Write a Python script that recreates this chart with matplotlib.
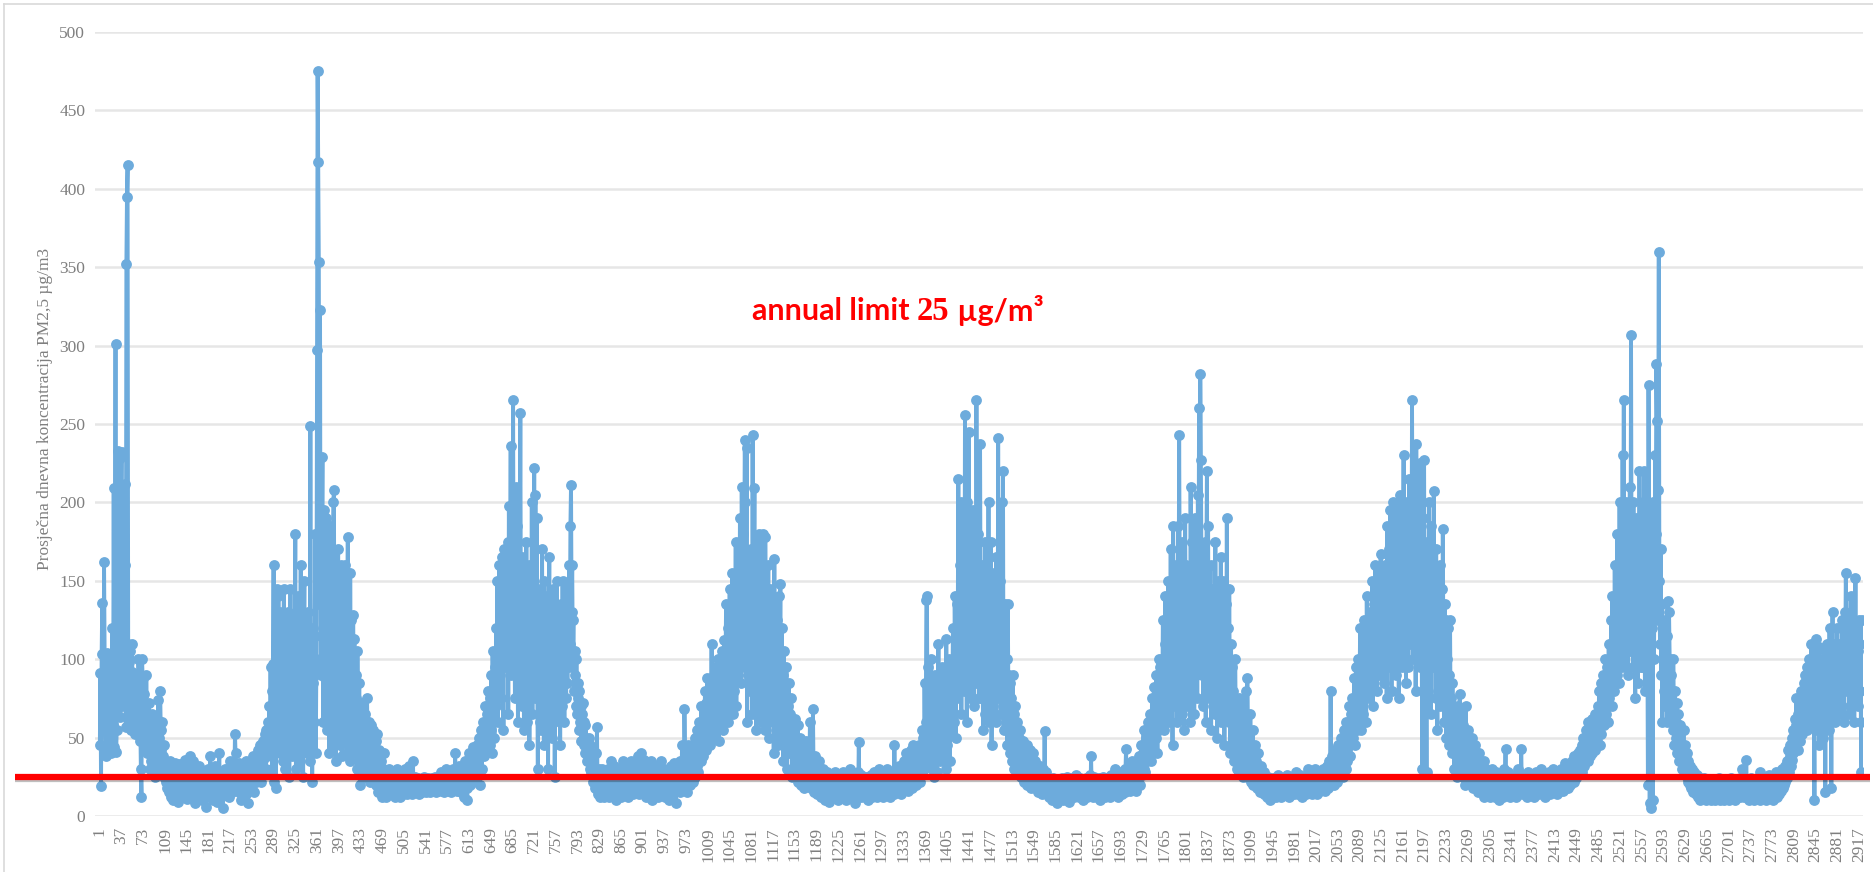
import numpy as np
import matplotlib
matplotlib.use("Agg")
import matplotlib.pyplot as plt
import matplotlib.patheffects as pe
from matplotlib.lines import Line2D

# daily PM2.5 means, one list per year (10 days per row)
year1 = [
    45, 91, 19, 103, 136, 88, 55, 162, 98, 41,
    38, 95, 104, 62, 44, 85, 100, 48, 40, 72,
    96, 120, 58, 209, 44, 118, 301, 41, 55, 210,
    233, 96, 150, 228, 63, 180, 232, 70, 205, 125,
    88, 160, 212, 57, 352, 395, 415, 110, 62, 98,
    105, 75, 55, 110, 92, 68, 54, 88, 60, 52,
    90, 58, 72, 55, 100, 84, 48, 62, 30, 12,
    100, 88, 62, 45, 78, 70, 50, 90, 58, 40,
    55, 72, 48, 30, 52, 35, 65, 45, 28, 40,
    58, 32, 25, 45, 62, 38, 30, 74, 50, 35,
    80, 55, 42, 60, 28, 38, 45, 25, 35, 30,
    22, 28, 18, 32, 25, 15, 20, 35, 12, 24,
    30, 18, 10, 22, 34, 26, 15, 20, 28, 9,
    17, 25, 33, 20, 12, 28, 22, 18, 30, 24,
    14, 36, 26, 20, 11, 16, 30, 22, 15, 38,
    25, 18, 12, 28, 35, 20, 14, 24, 8, 22,
    30, 16, 26, 19, 12, 32, 22, 27, 15, 20,
    10, 24, 18, 28, 14, 22, 6, 19, 25, 16,
    30, 12, 20, 38, 24, 15, 28, 10, 22, 18,
    25, 32, 14, 20, 27, 9, 18, 24, 40, 16,
    22, 12, 28, 18, 5, 20, 26, 14, 30, 22,
    16, 24, 19, 30, 12, 25, 35, 20, 28, 15,
    22, 32, 18, 26, 52, 40, 24, 30, 20, 28,
    15, 34, 22, 28, 10, 25, 30, 18, 24, 32,
    20, 28, 35, 14, 26, 8, 22, 32, 18, 28,
    25, 34, 30, 20, 38, 26, 15, 32, 28, 22,
    35, 30, 42, 24, 28, 45, 32, 22, 38, 30,
    48, 36, 28, 52, 42, 30, 55, 38, 45, 60,
    40, 70, 52, 95, 45, 80, 30, 97, 160, 22,
    90, 55, 18, 145, 120, 60, 140, 85, 40, 130,
    70, 110, 125, 35, 95, 145, 60, 30, 120, 80,
    100, 45, 130, 110, 25, 90, 145, 60, 38, 115,
    75, 125, 40, 100, 180, 30, 85, 70, 140, 55,
    110, 35, 95, 160, 45, 120, 75, 25, 105, 150,
    60, 90, 115, 40, 80, 130, 55, 100, 35, 249,
    70, 110, 22, 85, 120, 60, 95, 180, 40, 100,
    297, 475, 417, 353, 135,
]
year2 = [
    323, 90, 115, 170, 229, 60, 150, 195, 88, 125,
    190, 55, 140, 100, 160, 40, 130, 185, 75, 110,
    45, 160, 200, 208, 95, 150, 35, 140, 120, 60,
    170, 85, 130, 45, 160, 110, 38, 150, 100, 70,
    135, 50, 160, 90, 40, 120, 178, 60, 105, 35,
    155, 80, 125, 45, 100, 128, 60, 113, 40, 90,
    75, 30, 105, 60, 45, 85, 20, 70, 55, 40,
    72, 30, 60, 48, 25, 65, 35, 55, 75, 28,
    45, 60, 22, 50, 38, 58, 30, 42, 55, 25,
    40, 30, 48, 20, 35, 52, 15, 30, 42, 25,
    18, 35, 28, 12, 30, 22, 40, 15, 25, 20,
    12, 28, 18, 22, 15, 30, 20, 14, 25, 18,
    22, 15, 28, 18, 12, 24, 20, 16, 30, 14,
    20, 25, 16, 12, 22, 18, 28, 14, 20, 24,
    16, 30, 18, 22, 14, 26, 20, 32, 15, 22,
    18, 24, 14, 20, 35, 16, 22, 18, 25, 15,
    20, 16, 24, 18, 14, 22, 20, 17, 23, 15,
    19, 22, 16, 25, 18, 20, 15, 22, 18, 24,
    16, 20, 22, 15, 19, 24, 17, 21, 18, 22,
    25, 18, 15, 22, 20, 16, 24, 19, 21, 17,
    22, 28, 16, 20, 24, 18, 15, 22, 30, 20,
    25, 18, 22, 16, 28, 20, 24, 15, 22, 26,
    20, 30, 18, 24, 40, 22, 28, 16, 25, 20,
    32, 22, 18, 28, 15, 24, 30, 20, 12, 26,
    22, 35, 28, 18, 10, 30, 25, 40, 20, 32,
    38, 25, 30, 44, 22, 35, 28, 40, 30, 25,
    45, 35, 28, 50, 38, 20, 42, 55, 30, 48,
    60, 38, 52, 45, 70, 42, 65, 50, 80, 55,
    60, 45, 75, 55, 90, 40, 105, 65, 80, 50,
    95, 70, 120, 85, 150, 60, 110, 160, 90, 130,
    75, 165, 110, 145, 55, 170, 125, 95, 160, 100,
    140, 175, 65, 198, 120, 150, 236, 90, 170, 130,
    265, 110, 160, 75, 145, 210, 100, 185, 60, 130,
    90, 155, 257, 120, 70, 165, 100, 140, 55, 125,
    150, 80, 175, 60, 130, 95, 160, 45, 115, 140,
    85, 200, 65, 150, 100, 222, 75, 205, 120, 190,
    90, 30, 145, 110, 60,
]
year3 = [
    135, 55, 100, 170, 80, 125, 45, 150, 95, 110,
    60, 140, 85, 30, 115, 165, 70, 100, 130, 50,
    90, 145, 60, 120, 25, 105, 75, 150, 95, 65,
    125, 80, 110, 45, 100, 135, 70, 150, 90, 115,
    60, 130, 100, 75, 145, 85, 120, 95, 160, 110,
    185, 211, 130, 160, 100, 125, 80, 105, 90, 70,
    100, 65, 85, 75, 55, 80, 60, 70, 48, 65,
    55, 72, 45, 60, 40, 58, 50, 35, 48, 42,
    38, 50, 30, 45, 28, 40, 35, 22, 32, 25,
    30, 18, 40, 25, 57, 20, 14, 30, 22, 12,
    25, 18, 30, 14, 22, 28, 12, 20, 16, 26,
    15, 22, 30, 18, 12, 25, 20, 35, 16, 22,
    28, 14, 20, 32, 18, 10, 24, 16, 22, 30,
    18, 26, 14, 20, 12, 28, 22, 16, 35, 20,
    14, 22, 28, 18, 24, 12, 30, 20, 16, 25,
    22, 35, 18, 26, 14, 20, 30, 24, 16, 22,
    28, 18, 38, 22, 14, 32, 20, 40, 26, 18,
    30, 22, 36, 16, 28, 20, 12, 32, 24, 18,
    26, 14, 30, 20, 35, 18, 10, 24, 28, 16,
    22, 30, 15, 25, 18, 32, 12, 20, 28, 14,
    35, 20, 26, 16, 30, 22, 12, 28, 18, 24,
    14, 30, 20, 25, 10, 22, 32, 18, 26, 15,
    28, 20, 34, 16, 24, 8, 20, 30, 18, 26,
    22, 35, 15, 28, 20, 45, 24, 30, 18, 68,
    40, 25, 32, 15, 28, 45, 22, 38, 30, 20,
    35, 28, 45, 22, 40, 30, 50, 25, 38, 55,
    32, 48, 28, 60, 40, 52, 35, 70, 45, 58,
    38, 65, 50, 80, 42, 72, 55, 88, 48, 62,
    75, 45, 85, 60, 110, 55, 78, 65, 90, 50,
    70, 95, 58, 82, 66, 100, 48, 88, 72, 60,
    92, 75, 105, 55, 80, 112, 65, 95, 135, 70,
    85, 120, 60, 100, 145, 75, 110, 90, 155, 65,
    130, 80, 150, 100, 175, 70, 120, 125, 90, 160,
    110, 190, 140, 85, 210, 120, 180, 95, 150, 240,
    200, 110, 235, 60, 165, 90, 140, 105, 80, 170,
    125, 65, 243, 95, 150, 209, 115, 160, 55, 100,
    140, 80, 180, 65, 120,
]
year4 = [
    150, 75, 120, 60, 180, 95, 140, 55, 178, 110,
    70, 130, 85, 160, 50, 105, 145, 65, 120, 90,
    60, 110, 40, 164, 75, 100, 55, 125, 85, 45,
    140, 70, 95, 148, 50, 120, 65, 90, 35, 105,
    60, 80, 45, 95, 30, 70, 55, 85, 40, 65,
    50, 75, 25, 60, 42, 55, 30, 48, 62, 28,
    45, 35, 58, 22, 40, 30, 50, 20, 38, 28,
    42, 25, 35, 18, 30, 48, 22, 36, 28, 20,
    32, 25, 60, 18, 28, 35, 22, 68, 30, 15,
    25, 38, 20, 30, 14, 28, 22, 35, 18, 24,
    20, 12, 26, 18, 30, 15, 22, 10, 24, 16,
    20, 28, 14, 22, 9, 18, 25, 15, 20, 12,
    24, 16, 20, 28, 12, 18, 22, 14, 26, 10,
    18, 22, 15, 25, 12, 20, 16, 28, 14, 20,
    22, 10, 18, 26, 14, 20, 24, 12, 18, 30,
    16, 22, 12, 25, 18, 14, 20, 8, 24, 16,
    20, 28, 14, 47, 18, 22, 12, 26, 16, 20,
    24, 14, 20, 18, 12, 25, 16, 22, 10, 20,
    18, 24, 14, 20, 26, 12, 18, 22, 15, 28,
    14, 20, 25, 12, 18, 22, 16, 30, 14, 20,
    24, 16, 28, 12, 20, 18, 26, 14, 22, 18,
    30, 15, 22, 18, 26, 12, 20, 28, 16, 24,
    20, 14, 45, 22, 18, 28, 15, 24, 20, 32,
    16, 26, 20, 14, 30, 22, 18, 25, 35, 20,
    28, 18, 40, 22, 30, 16, 26, 35, 20, 42,
    25, 32, 18, 45, 28, 22, 38, 30, 20, 40,
    28, 35, 25, 45, 30, 22, 40, 55, 28, 38,
    50, 30, 85, 45, 60, 138, 140, 40, 95, 55,
    35, 70, 45, 100, 30, 60, 80, 25, 50, 90,
    40, 75, 55, 28, 65, 110, 45, 80, 35, 60,
    50, 95, 70, 40, 85, 55, 75, 30, 113, 65,
    45, 80, 60, 100, 35, 75, 90, 55, 70, 120,
    85, 60, 140, 100, 50, 135, 75, 120, 215, 90,
    160, 110, 200, 65, 145, 95, 175, 130, 80, 256,
    180, 120, 60, 200, 140, 245, 100, 165, 75, 130,
    150, 90, 195, 115, 70, 160, 125, 85, 265, 140,
    105, 180, 75, 155, 237,
]
year5 = [
    120, 75, 160, 100, 55, 140, 90, 175, 65, 130,
    100, 150, 80, 200, 60, 125, 95, 175, 45, 110,
    140, 70, 155, 90, 120, 60, 165, 100, 75, 241,
    130, 85, 150, 65, 110, 200, 90, 220, 55, 120,
    80, 135, 60, 100, 45, 135, 75, 90, 40, 85,
    60, 75, 35, 90, 50, 65, 30, 70, 45, 55,
    40, 60, 28, 50, 35, 45, 55, 25, 42, 38,
    30, 48, 22, 40, 35, 28, 45, 20, 38, 30,
    25, 42, 32, 18, 35, 28, 22, 40, 30, 20,
    35, 25, 18, 30, 22, 15, 28, 20, 32, 24,
    18, 26, 14, 30, 20, 25, 54, 22, 16, 28,
    20, 14, 24, 18, 12, 22, 16, 20, 10, 18,
    24, 12, 20, 16, 22, 14, 18, 8, 20, 15,
    22, 18, 12, 20, 16, 24, 10, 18, 14, 22,
    16, 20, 12, 25, 18, 14, 20, 9, 22, 16,
    18, 24, 14, 20, 12, 22, 16, 18, 26, 14,
    20, 15, 22, 12, 18, 24, 14, 20, 16, 10,
    18, 22, 14, 20, 16, 24, 12, 18, 22, 15,
    20, 26, 14, 38, 18, 22, 12, 20, 25, 16,
    14, 22, 18, 12, 20, 16, 24, 10, 18, 22,
    16, 20, 25, 14, 18, 22, 12, 20, 16, 24,
    18, 14, 22, 20, 12, 18, 26, 16, 20, 14,
    22, 18, 30, 14, 20, 24, 16, 22, 12, 20,
    25, 16, 20, 28, 14, 22, 18, 26, 20, 15,
    30, 43, 22, 18, 26, 20, 32, 16, 24, 28,
    20, 35, 24, 18, 30, 22, 28, 16, 34, 25,
    30, 22, 38, 28, 20, 35, 45, 26, 32, 40,
    55, 30, 42, 28, 50, 35, 45, 60, 38, 52,
    40, 65, 48, 35, 75, 55, 45, 82, 60, 70,
    50, 90, 65, 40, 80, 100, 55, 75, 95, 60,
    100, 70, 125, 85, 55, 110, 140, 65, 95, 125,
    80, 150, 60, 115, 95, 170, 75, 130, 45, 185,
    105, 160, 70, 140, 90, 120, 60, 185, 110, 243,
    150, 80, 130, 65, 175, 100, 145, 55, 120, 190,
    95, 160, 70, 135, 110, 85, 155, 60, 210, 125,
    100, 175, 80, 140, 65, 190, 120, 90, 160, 75,
    205, 130, 260, 95, 282, 227,
]
year6 = [
    160, 90, 140, 70, 125, 100, 175, 60, 150, 220,
    110, 185, 75, 130, 95, 160, 55, 120, 145, 80,
    100, 135, 65, 175, 90, 125, 50, 150, 105, 70,
    140, 85, 165, 60, 110, 150, 75, 125, 45, 100,
    135, 80, 190, 95, 120, 60, 145, 85, 40, 110,
    70, 95, 50, 80, 35, 75, 100, 45, 65, 30,
    60, 40, 75, 28, 55, 45, 70, 35, 50, 25,
    45, 60, 30, 80, 40, 25, 88, 55, 35, 50,
    30, 65, 22, 42, 35, 55, 20, 38, 28, 45,
    25, 35, 18, 30, 40, 22, 28, 15, 32, 20,
    26, 18, 22, 14, 28, 20, 16, 24, 12, 22,
    18, 25, 14, 20, 10, 22, 16, 18, 12, 24,
    20, 14, 22, 16, 12, 20, 18, 26, 14, 20,
    16, 22, 12, 18, 24, 14, 20, 16, 22, 18,
    14, 20, 26, 16, 22, 12, 18, 24, 15, 20,
    22, 16, 18, 24, 14, 20, 28, 16, 22, 18,
    14, 22, 20, 16, 26, 18, 12, 20, 24, 16,
    20, 18, 24, 14, 22, 16, 30, 18, 20, 15,
    22, 26, 16, 20, 14, 24, 18, 22, 30, 16,
    20, 24, 14, 22, 18, 26, 16, 20, 28, 22,
    18, 25, 30, 20, 16, 24, 28, 22, 32, 18,
    26, 20, 35, 24, 80, 30, 22, 38, 28, 20,
    34, 25, 42, 30, 22, 38, 28, 45, 24, 35,
    40, 28, 50, 32, 45, 25, 55, 38, 48, 30,
    60, 42, 35, 58, 45, 70, 38, 55, 65, 48,
    75, 50, 62, 88, 45, 70, 95, 55, 80, 60,
    100, 70, 85, 120, 55, 95, 75, 110, 65, 90,
    125, 80, 105, 60, 140, 90, 115, 75, 100, 130,
    85, 120, 95, 150, 70, 110, 135, 90, 160, 100,
    125, 80, 145, 105, 90, 155, 115, 167, 95, 130,
    110, 150, 85, 140, 100, 160, 120, 75, 185, 135,
    95, 170, 110, 195, 140, 80, 160, 120, 200, 100,
    150, 180, 90, 130, 195, 110, 165, 75, 140, 205,
    120, 160, 95, 190, 130, 230, 100, 175, 145, 85,
    200, 125, 160, 95, 215, 140, 110, 180, 130, 265,
    150, 100, 190, 125, 170, 80, 237, 140, 105, 200,
    130, 170, 95, 225, 150,
]
year7 = [
    110, 30, 190, 145, 227, 90, 160, 120, 28, 175,
    135, 80, 200, 110, 150, 65, 185, 125, 95, 160,
    207, 100, 140, 75, 170, 120, 55, 150, 90, 130,
    160, 70, 115, 145, 85, 183, 110, 60, 135, 95,
    125, 50, 100, 80, 120, 45, 90, 125, 60, 75,
    40, 85, 55, 70, 30, 65, 45, 60, 25, 50,
    70, 35, 55, 78, 40, 30, 65, 45, 25, 58,
    35, 50, 20, 70, 42, 30, 55, 25, 45, 35,
    28, 40, 22, 50, 32, 18, 38, 28, 45, 24,
    35, 20, 30, 15, 28, 40, 22, 18, 32, 25,
    15, 28, 20, 35, 12, 24, 18, 30, 14, 22,
    20, 16, 26, 12, 22, 18, 30, 14, 20, 24,
    16, 22, 12, 20, 28, 14, 18, 24, 10, 20,
    26, 14, 20, 16, 22, 12, 30, 18, 24, 43,
    16, 20, 14, 28, 18, 22, 12, 20, 26, 15,
    22, 18, 14, 24, 20, 16, 26, 12, 18, 22,
    30, 14, 20, 24, 16, 43, 18, 22, 14, 26,
    20, 16, 22, 18, 12, 24, 20, 28, 14, 18,
    22, 16, 26, 14, 20, 18, 24, 12, 22, 16,
    28, 18, 20, 14, 24, 16, 22, 30, 18, 20,
    14, 22, 16, 26, 20, 12, 18, 24, 16, 22,
    20, 28, 14, 22, 18, 24, 16, 20, 30, 18,
    22, 16, 26, 20, 14, 24, 18, 22, 28, 16,
    20, 30, 18, 24, 16, 22, 28, 20, 34, 18,
    26, 22, 30, 18, 24, 32, 20, 28, 22, 35,
    25, 30, 22, 38, 28, 24, 35, 30, 26, 40,
    32, 28, 42, 35, 30, 45, 28, 38, 50, 32,
    45, 36, 55, 40, 48, 35, 60, 42, 52, 38,
    55, 45, 62, 40, 58, 50, 48, 65, 42, 55,
    60, 48, 70, 55, 80, 45, 62, 85, 52, 75,
    62, 90, 58, 80, 100, 65, 85, 70, 95, 60,
    110, 75, 100, 85, 125, 70, 140, 95, 115, 80,
    160, 100, 130, 90, 180, 120, 150, 85, 200, 110,
    170, 130, 95, 230, 140, 265, 100, 175, 120, 200,
    150, 185, 90, 160, 125, 210, 105, 307, 140, 180,
    95, 200, 130, 160, 75, 190, 120, 145, 85, 170,
    110, 220, 140, 95, 165,
]
year8 = [
    150, 95, 200, 130, 220, 80, 175, 110, 160, 120,
    20, 275, 140, 8, 185, 5, 120, 165, 10, 200,
    100, 145, 230, 180, 288, 252, 125, 208, 360, 150,
    110, 170, 90, 135, 60, 120, 80, 100, 125, 70,
    95, 115, 60, 137, 85, 130, 100, 75, 90, 65,
    80, 55, 100, 70, 45, 80, 60, 50, 72, 40,
    65, 48, 35, 58, 42, 55, 30, 45, 38, 55,
    40, 28, 45, 32, 25, 40, 22, 35, 30, 20,
    32, 25, 18, 30, 22, 15, 28, 20, 25, 14,
    22, 18, 26, 12, 20, 15, 24, 10, 18, 22,
    14, 20, 16, 24, 12, 18, 22, 10, 16, 20,
    12, 18, 14, 22, 10, 16, 20, 12, 18, 14,
    22, 10, 16, 20, 14, 18, 12, 24, 16, 10,
    18, 14, 20, 12, 16, 22, 10, 18, 14, 20,
    16, 12, 22, 14, 18, 10, 20, 16, 24, 12,
    18, 14, 20, 16, 10, 22, 18, 12, 16, 20,
    14, 18, 24, 12, 20, 16, 30, 14, 18, 22,
    12, 20, 16, 36, 14, 18, 22, 10, 16, 20,
    14, 24, 12, 18, 16, 22, 10, 20, 14, 18,
    22, 12, 16, 20, 14, 28, 10, 18, 16, 22,
    12, 20, 14, 24, 16, 10, 18, 22, 14, 20,
    16, 26, 12, 20, 18, 14, 22, 10, 18, 24,
    14, 20, 16, 28, 12, 22, 18, 26, 14, 20,
    24, 16, 22, 30, 18, 26, 20, 32, 22, 28,
    35, 24, 30, 42, 28, 38, 45, 32, 50, 36,
    55, 40, 48, 62, 45, 58, 75, 50, 65, 42,
    70, 55, 48, 80, 60, 52, 75, 65, 58, 85,
    62, 90, 70, 55, 95, 68, 80, 100, 60, 85,
    75, 110, 65, 95, 80, 60, 10, 90, 113, 70,
    100, 55, 85, 108, 45, 75, 95, 60, 80, 100,
    50, 90, 70, 105, 15, 85, 60, 110, 75, 95,
    55, 120, 80, 100, 18, 90, 130, 70, 110, 85,
    60, 105, 95, 75, 120, 80, 105, 65, 110, 90,
    110, 70, 125, 85, 100, 60, 130, 95, 155, 115,
    80, 108, 105, 65, 120, 90, 140, 70, 100, 125,
    85, 110, 60, 95, 152, 75, 120, 90, 105, 70,
    125, 80, 110, 60, 28, 125,
]

limit = 25
y_ticks = [0, 50, 100, 150, 200, 250, 300, 350, 400, 450, 500]
ylabel = "Prosječna dnevna koncentracija PM2,5 µg/m3"

pm = np.array(year1 + year2 + year3 + year4 + year5 + year6 + year7 + year8, dtype=float)
days = np.arange(1, len(pm) + 1)
x_ticks = list(range(1, len(pm) + 1, 36))

W, H = 1873, 872
fig = plt.figure(figsize=(W / 100, H / 100), dpi=100)
ax = fig.add_axes([95 / W, 56 / H, (1863 - 95) / W, (816 - 32) / H])

ax.plot(days, pm, color="#6dabdc", lw=2.8, marker="o", ms=7.8,
        markeredgewidth=0, zorder=3)

ax.set_xlim(-7, len(pm) + 1.5)
ax.set_ylim(0, 500)
ax.set_yticks(y_ticks)
ax.set_xticks(x_ticks)
ax.set_xticklabels([str(t) for t in x_ticks], rotation=90)
ax.grid(axis="y", color="#e6e6e6", lw=1.8, zorder=0)
ax.grid(axis="x", visible=False)
for s in ax.spines.values():
    s.set_visible(False)
ax.tick_params(axis="both", length=0, colors="#7f7f7f")
ax.tick_params(axis="y", pad=7, labelsize=12.5)
ax.tick_params(axis="x", pad=8, labelsize=12.5)
for lab in ax.get_xticklabels() + ax.get_yticklabels():
    lab.set_fontfamily("Liberation Serif")

# red limit line, runs a bit past the plot on both sides
trans = ax.get_yaxis_transform()
ax.plot([-0.045, 1.004], [limit, limit], transform=trans, color="#ff0000",
        lw=4.5, clip_on=False, zorder=5, solid_capstyle="butt",
        path_effects=[pe.SimpleLineShadow(offset=(0, -1.5), alpha=0.25), pe.Normal()])

fig.text(45 / W, 1 - 409 / H, ylabel, rotation=90, ha="center", va="center",
         fontsize=12.5, color="#7f7f7f", family="Liberation Serif")

t1 = fig.text(752 / W, 1 - 311 / H, "annual limit ", ha="left", va="center",
              fontsize=22, color="#ff0000", weight="bold", family="Lato")
t2 = ax.annotate("25", xy=(1, 0.5), xycoords=t1, ha="left", va="center",
                 fontsize=23.5, color="#ff0000", weight="bold", family="Liberation Serif")
ax.annotate(" µg/m³", xy=(1, 0.5), xycoords=t2, ha="left", va="center",
            fontsize=22, color="#ff0000", weight="bold", family="Lato")

# faint frame of the chart area
fig.add_artist(Line2D([4 / W, 4 / W], [0, 1 - 4 / H], color="#d9d9d9", lw=1.2))
fig.add_artist(Line2D([4 / W, 1], [1 - 4 / H, 1 - 4 / H], color="#d9d9d9", lw=1.2))

fig.savefig("out.png", dpi=100, facecolor="white")
